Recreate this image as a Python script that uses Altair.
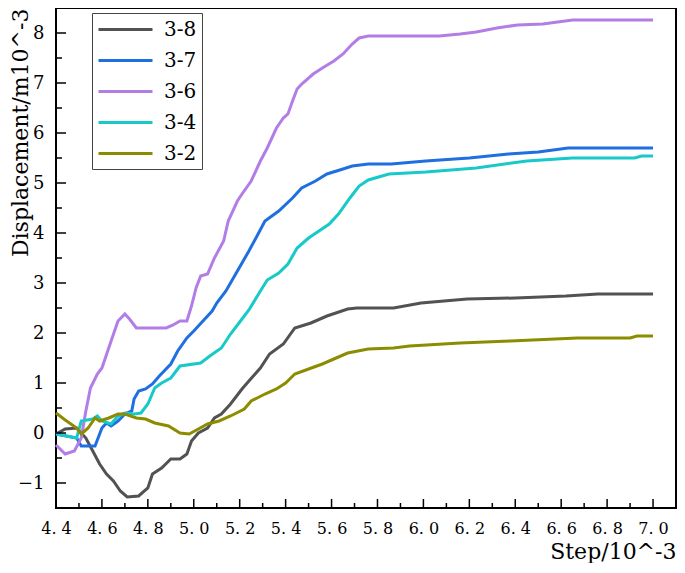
import altair as alt
import pandas as pd

series_names = ["3-8", "3-7", "3-6", "3-4", "3-2"]
series_colors = ["#525252", "#1f6fe0", "#b27ee6", "#17c9c9", "#8c8c00"]

x_38 = [4.40, 4.44, 4.49, 4.53, 4.56, 4.59, 4.62, 4.65, 4.68, 4.71, 4.76, 4.80, 4.82, 4.86, 4.90, 4.94, 4.97, 4.99, 5.02, 5.06,
        5.09, 5.12, 5.16, 5.21, 5.24, 5.29, 5.33, 5.39, 5.44, 5.51, 5.58, 5.67, 5.71, 5.87, 5.99, 6.19, 6.40, 6.62, 6.76, 7.00]
y_38 = [-0.02, 0.08, 0.10, -0.10, -0.36, -0.62, -0.82, -0.96, -1.16, -1.28, -1.26, -1.10, -0.82, -0.70, -0.52, -0.52, -0.42, -0.16, 0.00, 0.10,
        0.30, 0.38, 0.58, 0.88, 1.04, 1.30, 1.58, 1.78, 2.10, 2.20, 2.34, 2.48, 2.50, 2.50, 2.60, 2.68, 2.70, 2.74, 2.78, 2.78]

x_37 = [4.40, 4.49, 4.51, 4.57, 4.60, 4.62, 4.64, 4.67, 4.70, 4.73, 4.74, 4.76, 4.79, 4.82, 4.85, 4.90, 4.93, 4.97, 5.00, 5.04,
        5.08, 5.10, 5.14, 5.19, 5.24, 5.28, 5.31, 5.37, 5.43, 5.47, 5.53, 5.58, 5.65, 5.69, 5.76, 5.86, 6.01, 6.20, 6.37, 6.50, 6.63, 7.00]
y_37 = [-0.02, -0.10, -0.26, -0.26, 0.10, 0.20, 0.14, 0.24, 0.38, 0.44, 0.68, 0.84, 0.88, 0.98, 1.14, 1.38, 1.64, 1.90, 2.04, 2.24,
        2.44, 2.60, 2.84, 3.24, 3.64, 3.98, 4.24, 4.44, 4.70, 4.90, 5.04, 5.18, 5.28, 5.34, 5.38, 5.38, 5.44, 5.50, 5.58, 5.62, 5.70, 5.70]

x_36 = [4.40, 4.44, 4.48, 4.51, 4.53, 4.55, 4.58, 4.60, 4.64, 4.67, 4.70, 4.72, 4.75, 4.82, 4.88, 4.91, 4.94, 4.97, 4.99, 5.01,
        5.03, 5.06, 5.09, 5.13, 5.15, 5.19, 5.21, 5.25, 5.29, 5.32, 5.36, 5.39, 5.41, 5.43, 5.45, 5.47, 5.52, 5.56, 5.61, 5.65,
        5.69, 5.72, 5.76, 6.07, 6.16, 6.23, 6.32, 6.41, 6.52, 6.65, 7.00]
y_36 = [-0.24, -0.42, -0.36, -0.10, 0.44, 0.90, 1.18, 1.30, 1.84, 2.24, 2.38, 2.28, 2.10, 2.10, 2.10, 2.16, 2.24, 2.24, 2.54, 2.90,
        3.14, 3.18, 3.50, 3.84, 4.24, 4.64, 4.78, 5.04, 5.44, 5.70, 6.10, 6.30, 6.38, 6.64, 6.88, 6.98, 7.18, 7.30, 7.44, 7.58,
        7.78, 7.90, 7.94, 7.94, 7.98, 8.02, 8.10, 8.16, 8.18, 8.26, 8.26]

x_34 = [4.40, 4.49, 4.51, 4.56, 4.58, 4.60, 4.64, 4.67, 4.70, 4.74, 4.77, 4.80, 4.83, 4.86, 4.90, 4.94, 5.03, 5.07, 5.12, 5.16,
        5.20, 5.24, 5.29, 5.32, 5.37, 5.41, 5.45, 5.50, 5.59, 5.63, 5.68, 5.72, 5.76, 5.85, 6.01, 6.23, 6.45, 6.65, 6.92, 6.95, 7.00]
y_34 = [-0.02, -0.10, 0.24, 0.28, 0.34, 0.24, 0.18, 0.34, 0.40, 0.38, 0.40, 0.58, 0.90, 1.00, 1.10, 1.34, 1.40, 1.54, 1.70, 1.98,
        2.22, 2.46, 2.84, 3.06, 3.20, 3.38, 3.70, 3.90, 4.18, 4.38, 4.70, 4.94, 5.06, 5.18, 5.22, 5.30, 5.44, 5.50, 5.50, 5.54, 5.54]

x_32 = [4.40, 4.44, 4.49, 4.51, 4.54, 4.57, 4.59, 4.63, 4.67, 4.70, 4.75, 4.79, 4.83, 4.89, 4.94, 4.98, 5.02, 5.06, 5.11, 5.16,
        5.22, 5.25, 5.31, 5.36, 5.40, 5.44, 5.50, 5.56, 5.62, 5.67, 5.76, 5.87, 5.94, 6.16, 6.38, 6.67, 6.90, 6.93, 7.00]
y_32 = [0.40, 0.26, 0.10, -0.02, 0.10, 0.30, 0.24, 0.30, 0.38, 0.38, 0.30, 0.28, 0.20, 0.14, 0.00, -0.02, 0.08, 0.18, 0.24, 0.34,
        0.48, 0.64, 0.78, 0.88, 1.00, 1.18, 1.28, 1.38, 1.50, 1.60, 1.68, 1.70, 1.74, 1.80, 1.84, 1.90, 1.90, 1.94, 1.94]

x_major = [4.4, 4.6, 4.8, 5.0, 5.2, 5.4, 5.6, 5.8, 6.0, 6.2, 6.4, 6.6, 6.8, 7.0]
x_minor = [4.5, 4.7, 4.9, 5.1, 5.3, 5.5, 5.7, 5.9, 6.1, 6.3, 6.5, 6.7, 6.9]
y_major = [-1, 0, 1, 2, 3, 4, 5, 6, 7, 8]
y_minor = [-0.5, 0.5, 1.5, 2.5, 3.5, 4.5, 5.5, 6.5, 7.5]

xs = [x_38, x_37, x_36, x_34, x_32]
ys = [y_38, y_37, y_36, y_34, y_32]
rows = []
for name, xv, yv in zip(series_names, xs, ys):
    for i, (a, b) in enumerate(zip(xv, yv)):
        rows.append({"series": name, "step": a, "disp": b, "idx": i})
df = pd.DataFrame(rows)

W, H = 620, 500
FONT = "DejaVu Serif"

xscale = alt.Scale(domain=[4.4, 7.1], nice=False, zero=False)
yscale = alt.Scale(domain=[-1.5, 8.5], nice=False, zero=False)

x_axis = alt.Axis(values=x_major, labelExpr="replace(format(datum.value, '.1f'), '.', '. ')",
                  labelFont=FONT, labelFontSize=16, labelColor="black", labelPadding=12,
                  labelOverlap=False, labelFlush=False,
                  ticks=False, domain=False, grid=False,
                  title="Step/10^-3", titleFont=FONT, titleFontSize=22, titleFontWeight="normal",
                  titleColor="black", titleAlign="right", titleBaseline="alphabetic",
                  titleX=620, titleY=50)
y_axis = alt.Axis(values=y_major, format="d",
                  labelFont=FONT, labelFontSize=18, labelColor="black", labelPadding=12,
                  labelOverlap=False,
                  ticks=False, domain=False, grid=False,
                  title="Displacement/m10^-3", titleFont=FONT, titleFontSize=22, titleFontWeight="normal",
                  titleColor="black", titleAngle=270, titleAlign="right", titleBaseline="alphabetic",
                  titleX=-29, titleY=0)

lines = alt.Chart(df).mark_line(strokeWidth=3).encode(
    x=alt.X("step:Q", scale=xscale, axis=x_axis, title="Step/10^-3"),
    y=alt.Y("disp:Q", scale=yscale, axis=y_axis, title="Displacement/m10^-3"),
    color=alt.Color("series:N", scale=alt.Scale(domain=series_names, range=series_colors),
                    legend=alt.Legend(title=None, orient="none", legendX=36, legendY=5,
                                      symbolType="M-1,0H4.4", symbolSize=400, symbolStrokeWidth=3,
                                      labelFont=FONT, labelFontSize=20, labelColor="black",
                                      labelOffset=44, rowPadding=9, padding=5,
                                      strokeColor="#444444", fillColor="white")),
    order="idx:Q",
)

xmaj = alt.Chart(pd.DataFrame({"v": x_major})).mark_rule(color="black", strokeWidth=1.5).encode(
    x=alt.X("v:Q", scale=xscale, axis=x_axis, title="Step/10^-3"), y=alt.value(H), y2=alt.value(H - 9))
xmin = alt.Chart(pd.DataFrame({"v": x_minor})).mark_rule(color="black", strokeWidth=1.5).encode(
    x=alt.X("v:Q", scale=xscale, axis=x_axis, title="Step/10^-3"), y=alt.value(H), y2=alt.value(H - 5))
ymaj = alt.Chart(pd.DataFrame({"v": y_major})).mark_rule(color="black", strokeWidth=1.5).encode(
    y=alt.Y("v:Q", scale=yscale, axis=y_axis, title="Displacement/m10^-3"), x=alt.value(0), x2=alt.value(10))
ymin = alt.Chart(pd.DataFrame({"v": y_minor})).mark_rule(color="black", strokeWidth=1.5).encode(
    y=alt.Y("v:Q", scale=yscale, axis=y_axis, title="Displacement/m10^-3"), x=alt.value(0), x2=alt.value(6))

chart = alt.layer(lines, xmaj, xmin, ymaj, ymin).properties(
    width=W, height=H,
    background="white",
    autosize=alt.AutoSizeParams(type="none"),
    padding={"left": 48, "top": 0, "right": 1, "bottom": 55},
).configure_view(stroke="black", strokeWidth=2)

chart.save("out.html", embed_options={"renderer": "svg", "actions": False})
